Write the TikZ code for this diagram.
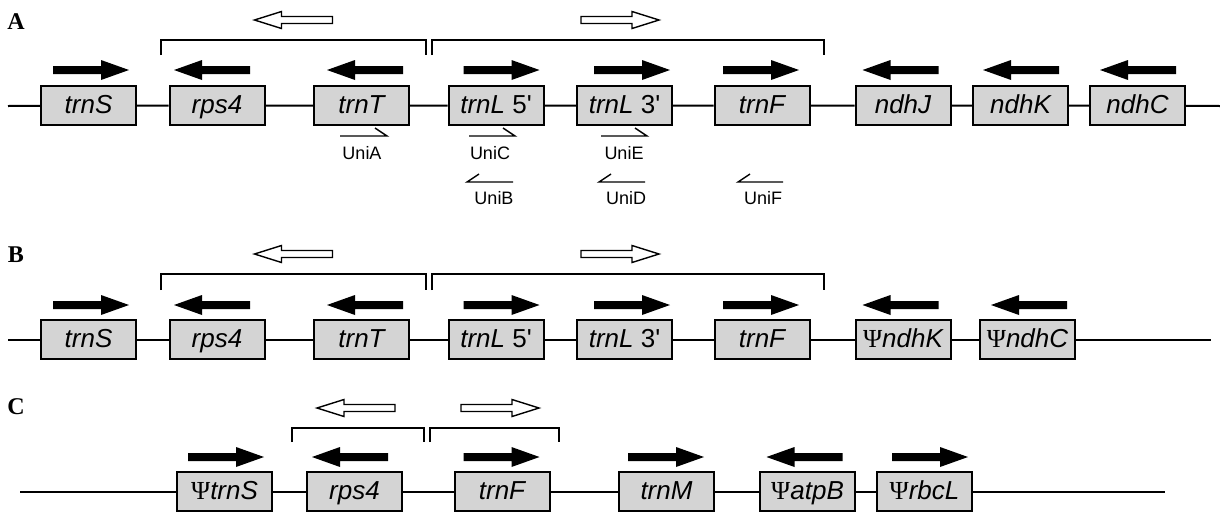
\documentclass[tikz,border=0pt]{standalone}
\usepackage{fontspec}
\setmainfont{Liberation Sans}
\newfontfamily\lserif{Liberation Serif}
\definecolor{boxgray}{RGB}{212,212,212}
\newcommand{\PsiG}{{\lserif\upshape Ψ}}
\newcommand{\prm}{\textquotesingle}
\tikzset{
  gene/.style={draw=black, line width=2pt, fill=boxgray, minimum width=95pt,
    minimum height=39pt, inner sep=0pt, text height=19pt, text depth=4pt,
    font=\fontsize{26}{26}\selectfont\itshape},
  dna/.style={line width=2pt},
  brk/.style={line width=2pt},
  primer/.style={line width=1.4pt},
  plabel/.style={font=\fontsize{18}{18}\selectfont, inner sep=0pt},
  panel/.style={font=\fontsize{24}{24}\selectfont\lserif\bfseries, inner sep=0pt},
  blkR/.pic={\fill[black] (-38,-4) -- (10,-4) -- (10,-10) -- (38,0) -- (10,10) -- (10,4) -- (-38,4) -- cycle;},
  blkL/.pic={\fill[black] (38,-4) -- (-10,-4) -- (-10,-10) -- (-38,0) -- (-10,10) -- (-10,4) -- (38,4) -- cycle;},
  opnR/.pic={\draw[line width=1.4pt, fill=white] (-39,-3.5) -- (12,-3.5) -- (12,-8.5) -- (39,0) -- (12,8.5) -- (12,3.5) -- (-39,3.5) -- cycle;},
  opnL/.pic={\draw[line width=1.4pt, fill=white] (39,-3.5) -- (-12,-3.5) -- (-12,-8.5) -- (-39,0) -- (-12,8.5) -- (-12,3.5) -- (39,3.5) -- cycle;},
}
\begin{document}
\begin{tikzpicture}[x=1pt,y=-1pt]
\useasboundingbox (0,0) rectangle (1220,515);

% ---------------- Panel A ----------------
\node[panel] (labA) at (16,22) {A};
\pic at (293.5,20) {opnL};
\pic at (620,20) {opnR};
\draw[brk] (161,55) -- (161,40) -- (426,40) -- (426,55);
\draw[brk] (432,55) -- (432,40) -- (824,40) -- (824,55);

\coordinate (sA) at (8,106);
\coordinate (eA) at (1220,106);
\node[gene] (a1) at (88.5,105.5) {trnS};
\node[gene] (a2) at (217,105.5) {rps4};
\node[gene] (a3) at (361.5,105.5) {trnT};
\node[gene] (a4) at (496,105.5) {trnL {\upshape 5\prm}};
\node[gene] (a5) at (624.5,105.5) {trnL {\upshape 3\prm}};
\node[gene] (a6) at (762,105.5) {trnF};
\node[gene] (a7) at (903,105.5) {ndhJ};
\node[gene] (a8) at (1020.5,105.5) {ndhK};
\node[gene] (a9) at (1137.5,105.5) {ndhC};
\draw[dna] (sA) -- (a1) -- (a2) -- (a3) -- (a4) -- (a5) -- (a6) -- (a7) -- (a8) -- (a9) -- (eA);

\pic at (91,70) {blkR};
\pic at (212,70) {blkL};
\pic at (365,70) {blkL};
\pic at (501.5,70) {blkR};
\pic at (632,70) {blkR};
\pic at (761,70) {blkR};
\pic at (900.5,70) {blkL};
\pic at (1021,70) {blkL};
\pic at (1138,70) {blkL};

% primers
\draw[primer] (340,136) -- (387,136) -- (375,128);
\node[plabel] (uA) at (362,153) {UniA};
\draw[primer] (469,136) -- (515,136) -- (503,128);
\node[plabel] (uC) at (490,153) {UniC};
\draw[primer] (601,136) -- (647,136) -- (635,128);
\node[plabel] (uE) at (624,153) {UniE};
\draw[primer] (513,182) -- (467,182) -- (479,174);
\node[plabel] (uB) at (494,198) {UniB};
\draw[primer] (645,182) -- (599,182) -- (611,174);
\node[plabel] (uD) at (626,198) {UniD};
\draw[primer] (783,182) -- (738,182) -- (750,174);
\node[plabel] (uF) at (763,198) {UniF};

% ---------------- Panel B ----------------
\node[panel] (labB) at (16,255) {B};
\pic at (293.5,254) {opnL};
\pic at (620,254) {opnR};
\draw[brk] (161,290) -- (161,274) -- (426,274) -- (426,290);
\draw[brk] (432,290) -- (432,274) -- (824,274) -- (824,290);

\coordinate (sB) at (8,339.5);
\coordinate (eB) at (1211,339.5);
\node[gene] (b1) at (88.5,339.5) {trnS};
\node[gene] (b2) at (217,339.5) {rps4};
\node[gene] (b3) at (361.5,339.5) {trnT};
\node[gene] (b4) at (496,339.5) {trnL {\upshape 5\prm}};
\node[gene] (b5) at (624.5,339.5) {trnL {\upshape 3\prm}};
\node[gene] (b6) at (762,339.5) {trnF};
\node[gene] (b7) at (903,339.5) {\PsiG ndhK};
\node[gene] (b8) at (1027.5,339.5) {\PsiG ndhC};
\draw[dna] (sB) -- (b1) -- (b2) -- (b3) -- (b4) -- (b5) -- (b6) -- (b7) -- (b8) -- (eB);

\pic at (91,305) {blkR};
\pic at (212,305) {blkL};
\pic at (365,305) {blkL};
\pic at (501.5,305) {blkR};
\pic at (632,305) {blkR};
\pic at (761,305) {blkR};
\pic at (900.5,305) {blkL};
\pic at (1029,305) {blkL};

% ---------------- Panel C ----------------
\node[panel] (labC) at (16,407) {C};
\pic at (356,408) {opnL};
\pic at (500,408) {opnR};
\draw[brk] (292,442) -- (292,428) -- (424,428) -- (424,442);
\draw[brk] (430,442) -- (430,428) -- (559,428) -- (559,442);

\coordinate (sC) at (20,491.5);
\coordinate (eC) at (1165,491.5);
\node[gene] (c1) at (224.5,491.5) {\PsiG trnS};
\node[gene] (c2) at (354.5,491.5) {rps4};
\node[gene] (c3) at (502,491.5) {trnF};
\node[gene] (c4) at (666.5,491.5) {trnM};
\node[gene] (c5) at (807.5,491.5) {\PsiG atpB};
\node[gene] (c6) at (924.5,491.5) {\PsiG rbcL};
\draw[dna] (sC) -- (c1) -- (c2) -- (c3) -- (c4) -- (c5) -- (c6) -- (eC);

\pic at (226,457) {blkR};
\pic at (350,457) {blkL};
\pic at (501.5,457) {blkR};
\pic at (666,457) {blkR};
\pic at (804.5,457) {blkL};
\pic at (930,457) {blkR};
\end{tikzpicture}
\end{document}
